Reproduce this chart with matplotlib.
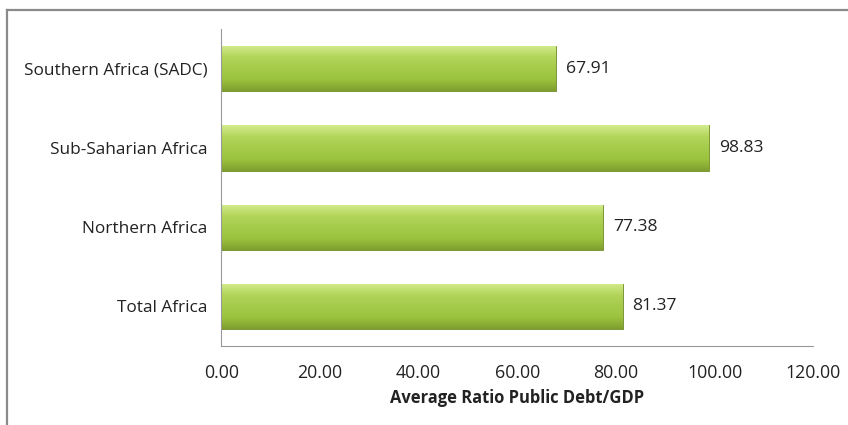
import numpy as np
import matplotlib.pyplot as plt
from matplotlib.colors import LinearSegmentedColormap
from matplotlib.lines import Line2D

# --- data ---
regions = ["Total Africa", "Northern Africa", "Sub-Saharian Africa", "Southern Africa (SADC)"]
debt_ratio = [81.37, 77.38, 98.83, 67.91]
xticks = [0, 20, 40, 60, 80, 100, 120]

plt.rcParams['font.family'] = ['Open Sans', 'DejaVu Sans']

fig = plt.figure(figsize=(8.48, 4.25), dpi=100)
ax = fig.add_axes([0.261, 0.186, 0.698, 0.745])

# green bevel-ish gradient for the bars
green = LinearSegmentedColormap.from_list(
    "bevel", ["#7f9f2e", "#9cc33f", "#a6cb4b", "#b2d55a", "#d4ec8e"])
grad = np.linspace(0, 1, 64).reshape(-1, 1)

ypos = np.arange(len(regions))
bars = ax.barh(ypos, debt_ratio, height=0.57, color="#a4c94a",
               edgecolor="#6e8a27", linewidth=0.6, zorder=2)
for b in bars:
    x0, y0 = b.get_x(), b.get_y()
    w, h = b.get_width(), b.get_height()
    im = ax.imshow(grad, cmap=green, aspect="auto", origin="lower",
                   extent=[x0, x0 + w, y0, y0 + h], zorder=2.5,
                   interpolation="bicubic")
    im.set_clip_path(b)

for y, v in zip(ypos, debt_ratio):
    ax.text(v + 2.0, y, f"{v:.2f}", va="center", ha="left",
            fontsize=12.6, color="#222222")

ax.set_xlim(0, 120)
ax.set_ylim(-0.5, 3.5)
ax.set_xticks(xticks)
ax.set_xticklabels([f"{t:.2f}" for t in xticks], fontsize=12.8, color="#222222")
ax.set_yticks(ypos)
ax.set_yticklabels(regions, fontsize=12.4, color="#222222")
ax.tick_params(length=0, pad=13)
ax.tick_params(axis="y", pad=10)
ax.set_xlabel("Average Ratio Public Debt/GDP", fontsize=11.9,
              fontweight="bold", labelpad=5, color="#222222")

for s in ["top", "right"]:
    ax.spines[s].set_visible(False)
ax.spines["left"].set_color("#999999")
ax.spines["bottom"].set_color("#999999")

# outer chart border (top and left visible in the crop)
fig.add_artist(Line2D([0.008, 1.0], [0.977, 0.977], color="#8a8a8a",
                      lw=1.6, transform=fig.transFigure))
fig.add_artist(Line2D([0.008, 0.008], [0.0, 0.977], color="#8a8a8a",
                      lw=1.6, transform=fig.transFigure))

fig.savefig("out.png", dpi=100)
